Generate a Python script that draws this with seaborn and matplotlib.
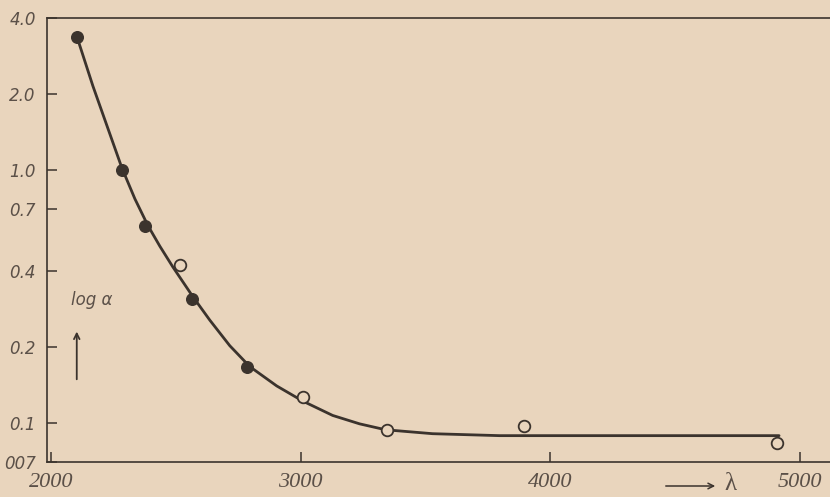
import numpy as np
import pandas as pd
import matplotlib
matplotlib.use("Agg")
import matplotlib.pyplot as plt
import seaborn as sns
from matplotlib.ticker import NullLocator

# values
filled_x = [2104, 2284, 2376, 2564, 2784]
filled_y = [3.37, 1.0, 0.60, 0.308, 0.166]
open_x = [2516, 3008, 3344, 3896, 4908]
open_y = [0.42, 0.126, 0.094, 0.097, 0.083]

# smooth drawn curve, read at points along it
curve_x = [2104, 2168, 2224, 2284, 2336, 2388, 2436, 2488, 2568, 2636, 2716,
           2796, 2904, 3008, 3128, 3236, 3340, 3528, 3796, 4916]
curve_y = [3.37, 2.15, 1.50, 1.02, 0.770, 0.604, 0.500, 0.414, 0.316, 0.255,
           0.202, 0.167, 0.140, 0.122, 0.107, 0.0991, 0.0939, 0.0906, 0.0890,
           0.0890]

x_ticks = [2000, 3000, 4000, 5000]
y_ticks = [0.07, 0.1, 0.2, 0.4, 0.7, 1.0, 2.0, 4.0]
y_tick_labels = ["007", "0.1", "0.2", "0.4", "0.7", "1.0", "2.0", "4.0"]

bg = "#e9d5bd"
ink = "#3b332d"
label_ink = "#5b5048"

sns.set_style("ticks")
plt.rcParams["font.family"] = ["DejaVu Sans"]

fig = plt.figure(figsize=(8.3, 4.97), dpi=100, facecolor=bg)
ax = fig.add_axes([47 / 830, 1 - 462 / 497, 1 - 47 / 830, (462 - 18) / 497])
ax.set_facecolor(bg)

curve = pd.DataFrame({"x": curve_x, "y": curve_y})
sns.lineplot(data=curve, x="x", y="y", ax=ax, color=ink, linewidth=2.0,
             sort=False, estimator=None)
sns.scatterplot(x=filled_x, y=filled_y, ax=ax, s=70, color=ink,
                edgecolor=ink, linewidth=1, zorder=3)
sns.scatterplot(x=open_x, y=open_y, ax=ax, s=70, facecolor=bg,
                edgecolor=ink, linewidth=1.3, zorder=3)

ax.set_yscale("log")
ax.set_xlim(1984, 5120)
ax.set_ylim(0.07, 4.0)
ax.yaxis.set_minor_locator(NullLocator())
ax.set_yticks(y_ticks, y_tick_labels)
ax.set_xticks(x_ticks, [str(v) for v in x_ticks])
ax.set_xlabel("")
ax.set_ylabel("")

for side in ["top", "bottom", "left"]:
    ax.spines[side].set_color(ink)
    ax.spines[side].set_linewidth(1.2)
ax.spines["right"].set_visible(False)

ax.tick_params(axis="both", direction="in", length=7, width=1.1, color=ink)
ax.tick_params(axis="y", pad=8, labelsize=12, labelcolor=label_ink)
ax.tick_params(axis="x", pad=8, labelsize=16, labelcolor=label_ink)
for t in ax.get_yticklabels():
    t.set_fontstyle("italic")
for t in ax.get_xticklabels():
    t.set_fontfamily("Liberation Serif")
    t.set_fontstyle("italic")

# y axis caption with upward arrow
ax.text(0.057, 0.365, "log α", transform=ax.transAxes, ha="center", va="center",
        fontsize=12, fontstyle="italic", color=label_ink)
ax.annotate("", xy=(0.038, 0.30), xytext=(0.038, 0.18), xycoords="axes fraction",
            arrowprops=dict(arrowstyle="->", color=ink, lw=1.3))

# x axis caption with arrow
ax.annotate("", xy=(718 / 830, 1 - 486 / 497), xytext=(663 / 830, 1 - 486 / 497),
            xycoords="figure fraction", annotation_clip=False,
            arrowprops=dict(arrowstyle="->", color=ink, lw=1.1))
fig.text(730 / 830, 1 - 484 / 497, "λ", ha="center", va="center", fontsize=18,
         family="Liberation Serif", color=label_ink)

fig.savefig("out.png", dpi=100, facecolor=bg)
